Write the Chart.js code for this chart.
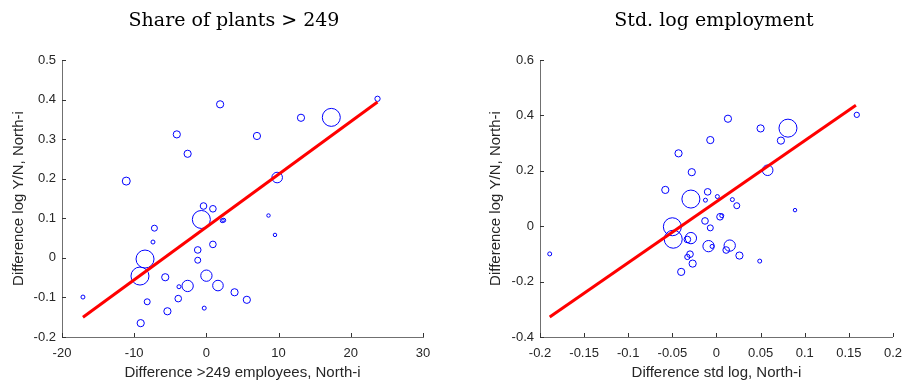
<!DOCTYPE html>
<html>
<head>
<meta charset="utf-8">
<script src="https://cdn.jsdelivr.net/npm/chart.js@4.4.0/dist/chart.umd.min.js"></script>
<style>
  html, body { margin: 0; padding: 0; background: #fff; }
  #wrap { position: relative; width: 911px; height: 383px; }
  canvas { position: absolute; top: 0; }
</style>
</head>
<body>
<div id="wrap">
  <canvas id="left" width="455" height="383" style="left:0"></canvas>
  <canvas id="right" width="456" height="383" style="left:455px"></canvas>
</div>
<script>
// left panel: share of plants > 249
const leftX = [-17.1, -11.1, -9.1, -8.5, -9.2, -8.2, -7.2, -7.4, -5.7, -5.4, -4.1, -3.8, -3.9, -2.6, -2.6, -0.7, -0.4, 0.9,
    -1.2, -1.2, 0.9, 0, -0.3, 1.6, 1.9, 2.2, 2.4, 3.9, 5.6, 7.0, 8.6, 9.5, 9.8, 13.1, 17.3, 23.7];
const leftY = [-0.099, 0.194, -0.165, -0.003, -0.046, -0.111, 0.075, 0.040, -0.049, -0.135, 0.312, -0.073, -0.103, 0.263,
    -0.071, 0.097, 0.131, 0.124, 0.020, -0.006, 0.034, -0.045, -0.127, -0.070, 0.388, 0.094, 0.095, -0.087, -0.106, 0.308,
    0.107, 0.058, 0.203, 0.354, 0.355, 0.402];
const leftWeight = [4, 16, 13, 81, 81, 9, 9, 4, 13, 13, 13, 4, 11, 13, 32, 81, 11, 11, 11, 9, 11, 32, 4, 28, 13, 4, 4, 13,
    13, 13, 3, 3, 28, 13, 81, 7];
const leftFitX = [-17.1, 23.7];
const leftFitY = [-0.150, 0.394];

// right panel: std. log employment
const rightX = [-0.189, -0.058, -0.043, -0.050, -0.049, -0.040, -0.033, -0.029, -0.029, -0.028, -0.033, -0.030, -0.027,
    -0.013, -0.0125, -0.010, -0.007, -0.007, -0.009, -0.005, 0.001, 0.004, 0.006, 0.011, 0.015, 0.013, 0.018, 0.023, 0.026,
    0.049, 0.050, 0.058, 0.073, 0.081, 0.089, 0.159];
const rightY = [-0.100, 0.131, 0.263, -0.002, -0.047, -0.165, -0.048, -0.043, 0.098, 0.195, -0.111, -0.101, -0.135, 0.019,
    0.094, 0.124, 0.311, -0.006, -0.072, -0.073, 0.107, 0.034, 0.038, -0.086, -0.070, 0.388, 0.096, 0.074, -0.106, -0.126,
    0.353, 0.202, 0.309, 0.354, 0.058, 0.402];
const rightWeight = [4, 13, 13, 81, 81, 13, 11, 32, 81, 13, 7, 11, 13, 11, 4, 11, 13, 9, 32, 4, 4, 11, 4, 11, 32, 13, 4, 9,
    13, 4, 13, 28, 13, 81, 3, 7];
const rightFitX = [-0.189, 0.158];
const rightFitY = [-0.328, 0.437];

const leftXTicks = {min: -20, max: 30, step: 10};
const leftYTicks = {min: -0.2, max: 0.5, step: 0.1};
const rightXTicks = {min: -0.2, max: 0.2, step: 0.05};
const rightYTicks = {min: -0.4, max: 0.6, step: 0.2};

const sans = '"Liberation Sans", Arial, sans-serif';
const ink = '#262626';

// matlab style ticks pointing into the plot
const innerTicks = {
    id: 'innerTicks',
    afterDraw(chart) {
        const {ctx, chartArea: a, scales: {x, y}} = chart;
        ctx.save();
        ctx.strokeStyle = '#333';
        ctx.lineWidth = 1;
        ctx.beginPath();
        x.ticks.forEach(t => {
            const px = Math.round(x.getPixelForValue(t.value)) + 0.5;
            ctx.moveTo(px, a.bottom);
            ctx.lineTo(px, a.bottom - 4);
        });
        y.ticks.forEach(t => {
            const py = Math.round(y.getPixelForValue(t.value)) + 0.5;
            ctx.moveTo(a.left, py);
            ctx.lineTo(a.left + 4, py);
        });
        ctx.stroke();
        ctx.restore();
    }
};

const panelTitle = {
    id: 'panelTitle',
    afterDraw(chart, args, opts) {
        const ctx = chart.ctx;
        ctx.save();
        ctx.font = '19px "DejaVu Serif", serif';
        ctx.fillStyle = '#000';
        ctx.textAlign = 'center';
        ctx.textBaseline = 'alphabetic';
        ctx.fillText(opts.text, opts.x, 26);
        ctx.restore();
    }
};

function fmt(v) {
    return String(Math.round(v * 100) / 100);
}

function makePanel(id, p) {
    const pts = p.xs.map((x, i) => ({x: x, y: p.ys[i]}));
    const fit = p.fitX.map((x, i) => ({x: x, y: p.fitY[i]}));
    return new Chart(document.getElementById(id), {
        type: 'scatter',
        data: {
            datasets: [{
                data: fit,
                showLine: true,
                borderColor: '#ff0000',
                borderWidth: 3,
                pointRadius: 0
            }, {
                data: pts,
                pointRadius: c => Math.sqrt(p.weights[c.dataIndex]),
                pointBorderColor: '#0000ff',
                pointBackgroundColor: 'rgba(0,0,0,0)',
                pointBorderWidth: 1
            }]
        },
        options: {
            responsive: false,
            animation: false,
            events: [],
            layout: {padding: {top: 60, left: 0, right: p.padRight, bottom: 0}},
            plugins: {
                legend: {display: false},
                tooltip: {enabled: false},
                panelTitle: {text: p.title, x: p.titleX}
            },
            scales: {
                x: {
                    min: p.xt.min, max: p.xt.max,
                    grid: {display: false, drawTicks: false},
                    border: {color: '#707070', width: 1},
                    ticks: {stepSize: p.xt.step, autoSkip: false, maxRotation: 0, padding: 9,
                        color: ink, font: {family: sans, size: 13}, callback: fmt},
                    title: {display: true, text: p.xLabel, color: ink, padding: {top: 0, bottom: 1},
                        font: {family: sans, size: 15}},
                    afterFit: s => { s.height = 46; }
                },
                y: {
                    min: p.yt.min, max: p.yt.max,
                    grid: {display: false, drawTicks: false},
                    border: {color: '#707070', width: 1},
                    ticks: {stepSize: p.yt.step, autoSkip: false, padding: 6,
                        color: ink, font: {family: sans, size: 13}, callback: fmt},
                    title: {display: true, text: 'Difference log Y/N, North-i', color: ink,
                        padding: {top: p.yTitlePad, bottom: 0}, font: {family: sans, size: 15}},
                    afterFit: s => { s.width = p.yWidth; }
                }
            }
        },
        plugins: [innerTicks, panelTitle]
    });
}

makePanel('left', {
    xs: leftX, ys: leftY, weights: leftWeight, fitX: leftFitX, fitY: leftFitY,
    xt: leftXTicks, yt: leftYTicks,
    title: 'Share of plants > 249', titleX: 234,
    xLabel: 'Difference >249 employees, North-i',
    yWidth: 62, yTitlePad: 10, padRight: 32
});

makePanel('right', {
    xs: rightX, ys: rightY, weights: rightWeight, fitX: rightFitX, fitY: rightFitY,
    xt: rightXTicks, yt: rightYTicks,
    title: 'Std. log employment', titleX: 259,
    xLabel: 'Difference std log, North-i',
    yWidth: 85, yTitlePad: 32, padRight: 10
});
</script>
</body>
</html>
